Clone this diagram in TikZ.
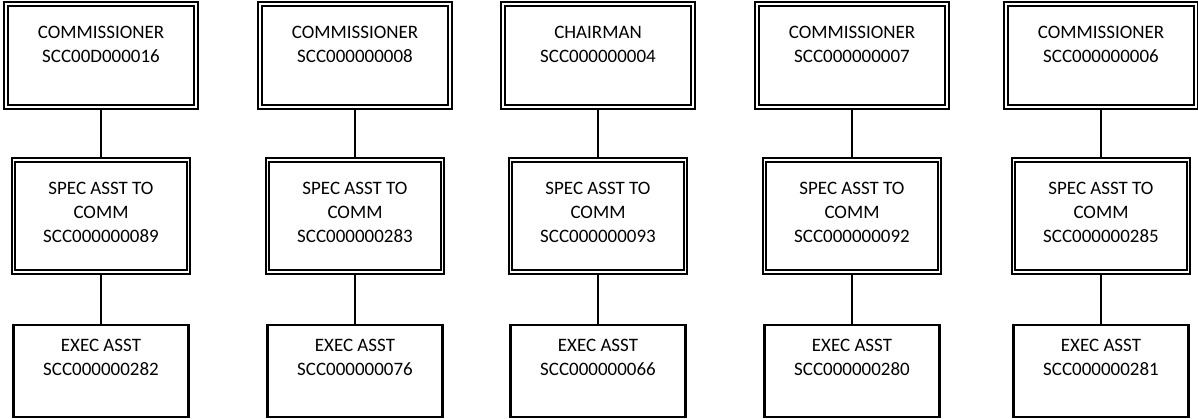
\documentclass[tikz,border=0pt]{standalone}
\usepackage{fontspec}
\setmainfont{Carlito}
\newcommand{\chartlabel}[2]{\parbox[c][#1][t]{3.4cm}{\centering #2}}

\begin{document}
\begin{tikzpicture}[
  headbox/.style={draw, double, double distance=1pt, line width=1.1pt,
    minimum width=3.8cm, minimum height=2.06cm, inner sep=0pt},
  asstbox/.style={headbox, minimum width=3.5cm, minimum height=2.24cm},
  execbox/.style={draw, line width=1.4pt, minimum width=3.5cm,
    minimum height=1.84cm, inner sep=0pt},
  link/.style={line width=0.9pt},
  font=\fontsize{10.8}{13.6}\selectfont]
\useasboundingbox (0,0) rectangle (23.96,-8.38);

% top row
\node[headbox] (top1) at (2.02,-1.11) {\chartlabel{1.18cm}{COMMISSIONER\\SCC00D000016}};
\node[headbox] (top2) at (7.10,-1.11) {\chartlabel{1.18cm}{COMMISSIONER\\SCC000000008}};
\node[headbox] (top3) at (11.96,-1.11) {\chartlabel{1.18cm}{CHAIRMAN\\SCC000000004}};
\node[headbox] (top4) at (17.04,-1.11) {\chartlabel{1.18cm}{COMMISSIONER\\SCC000000007}};
\node[headbox] (top5) at (22.02,-1.11) {\chartlabel{1.18cm}{COMMISSIONER\\SCC000000006}};

% middle row
\node[asstbox] (mid1) at (2.02,-4.32) {\chartlabel{1.36cm}{SPEC ASST TO\\COMM\\SCC000000089}};
\node[asstbox] (mid2) at (7.10,-4.32) {\chartlabel{1.36cm}{SPEC ASST TO\\COMM\\SCC000000283}};
\node[asstbox] (mid3) at (11.96,-4.32) {\chartlabel{1.36cm}{SPEC ASST TO\\COMM\\SCC000000093}};
\node[asstbox] (mid4) at (17.04,-4.32) {\chartlabel{1.36cm}{SPEC ASST TO\\COMM\\SCC000000092}};
\node[asstbox] (mid5) at (22.02,-4.32) {\chartlabel{1.36cm}{SPEC ASST TO\\COMM\\SCC000000285}};

% bottom row
\node[execbox] (bot1) at (2.02,-7.42) {\chartlabel{1.28cm}{EXEC ASST\\SCC000000282}};
\node[execbox] (bot2) at (7.10,-7.42) {\chartlabel{1.28cm}{EXEC ASST\\SCC000000076}};
\node[execbox] (bot3) at (11.96,-7.42) {\chartlabel{1.28cm}{EXEC ASST\\SCC000000066}};
\node[execbox] (bot4) at (17.04,-7.42) {\chartlabel{1.28cm}{EXEC ASST\\SCC000000280}};
\node[execbox] (bot5) at (22.02,-7.42) {\chartlabel{1.28cm}{EXEC ASST\\SCC000000281}};

\draw[link] (top1) -- (mid1) (mid1) -- (bot1);
\draw[link] (top2) -- (mid2) (mid2) -- (bot2);
\draw[link] (top3) -- (mid3) (mid3) -- (bot3);
\draw[link] (top4) -- (mid4) (mid4) -- (bot4);
\draw[link] (top5) -- (mid5) (mid5) -- (bot5);

\end{tikzpicture}
\end{document}
